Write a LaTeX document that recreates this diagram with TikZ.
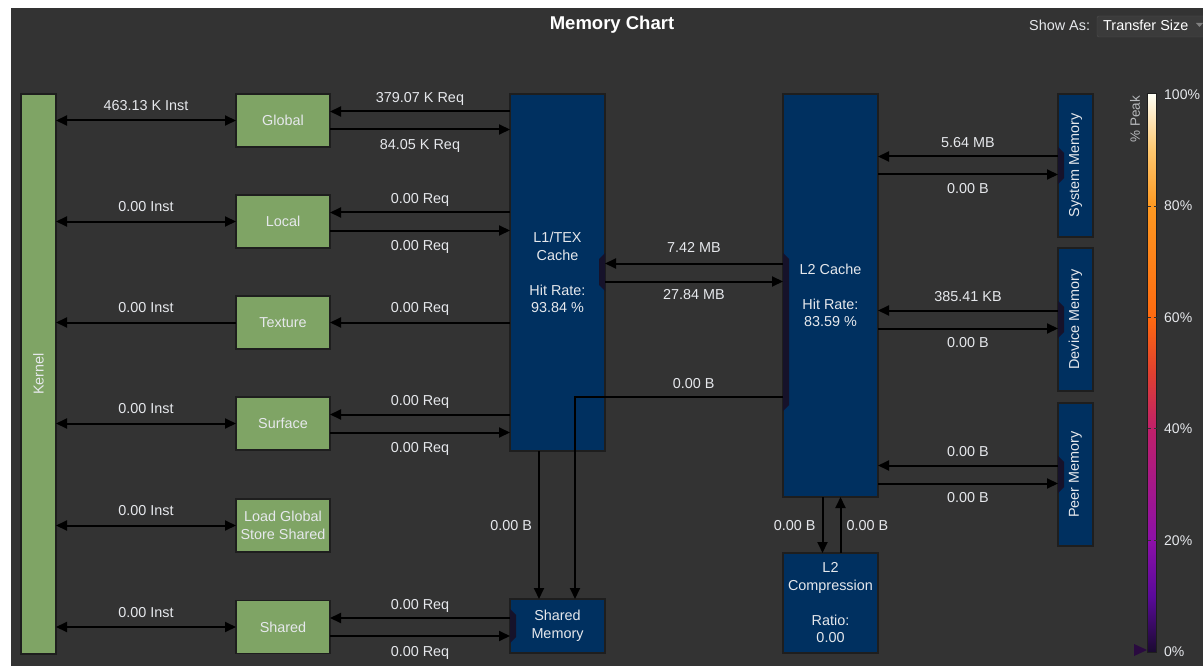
\documentclass[tikz,border=0pt]{standalone}
\usepackage{fontspec}
\usepackage{graphicx}
\setmainfont{Liberation Sans}
\usetikzlibrary{arrows.meta,calc}
\definecolor{bgdark}{HTML}{333333}
\definecolor{kgreen}{HTML}{7FA465}
\definecolor{navy}{HTML}{003060}
\definecolor{bordc}{HTML}{1E1E1E}
\definecolor{txt}{HTML}{E6E8EC}
\definecolor{portc}{HTML}{16122A}
\definecolor{cA}{HTML}{1A0A30}
\definecolor{cB}{HTML}{5A0A9A}
\definecolor{cC}{HTML}{8C10A8}
\definecolor{cD}{HTML}{C0206A}
\definecolor{cE}{HTML}{E04030}
\definecolor{cF}{HTML}{FF6A10}
\definecolor{cG}{HTML}{FF9A22}
\definecolor{cH}{HTML}{FFC870}
\definecolor{cI}{HTML}{FFFFF5}
\definecolor{tri}{HTML}{2A0A40}
\definecolor{ddfill}{HTML}{3B3B3B}
\definecolor{ddbord}{HTML}{505050}
\pgfdeclareverticalshading{peakshade}{100bp}{color(0bp)=(cA); color(25bp)=(cA); color(30bp)=(cB); color(35bp)=(cC); color(45bp)=(cD); color(50bp)=(cE); color(55bp)=(cF); color(65bp)=(cG); color(70bp)=(cH); color(75bp)=(cI); color(100bp)=(cI)}
\newcommand\lblfont{\fontsize{14.4}{17.5}\selectfont}
\begin{document}
\begin{tikzpicture}[x=1pt,y=-1pt,
  gbox/.style={draw=bordc,line width=1.2pt,fill=kgreen,text=txt,minimum width=94pt,minimum height=53pt,inner sep=0pt,outer sep=0pt,align=center,font=\lblfont},
  nbox/.style={draw=bordc,line width=1.2pt,fill=navy,text=txt,inner sep=0pt,outer sep=0pt,align=center,font=\lblfont},
  arr/.style={line width=2pt,draw=black,-{Triangle[length=11pt,width=10pt]}},
  darr/.style={line width=2pt,draw=black,{Triangle[length=11pt,width=10pt]}-{Triangle[length=11pt,width=10pt]}},
  lbl/.style={text=txt,font=\lblfont,inner sep=0pt,text height=10pt,text depth=0pt},
  pct/.style={text=txt,font=\fontsize{14}{16}\selectfont,inner sep=0pt,text height=10pt,text depth=0pt,anchor=west}]
\useasboundingbox (0,0) rectangle (1203,666);
\fill[white] (0,0) rectangle (1203,666);
\fill[bgdark] (11,8) rectangle (1203,666);

% title and header
\node[text=white,font=\bfseries\fontsize{18.5}{20}\selectfont] (title) at (612,25) {Memory Chart};
\node[lbl,anchor=west] (showas) at (1029,26) {Show As:};
\draw[fill=ddfill,draw=ddbord,rounded corners=2pt] (1097,16) rectangle (1215,37);
\node[lbl,anchor=west,text=white] (ddtext) at (1103,26) {Transfer Size};
\fill[gray] (1196,23) -- (1203,23) -- (1199.5,27) -- cycle;

% kernel and green boxes
\node[gbox,minimum width=35pt,minimum height=560pt] (kernel) at (38.5,374) {\rotatebox{90}{Kernel}};
\node[gbox] (global) at (283,120.5) {Global};
\node[gbox] (local) at (283,221.5) {Local};
\node[gbox] (texture) at (283,322.5) {Texture};
\node[gbox] (surface) at (283,423.5) {Surface};
\node[gbox] (loadgs) at (283,525.5) {Load Global\\Store Shared};
\node[gbox] (shared) at (283,627) {Shared};

% navy boxes
\node[nbox,minimum width=95pt,minimum height=357pt] (L1) at (557.5,272.5) {L1/TEX\\Cache\\[17.5pt]Hit Rate:\\93.84 \%};
\node[nbox,minimum width=95pt,minimum height=54pt] (ShMem) at (557.5,626) {Shared\\Memory};
\node[nbox,minimum width=95pt,minimum height=403pt] (L2) at (830.5,295.5) {L2 Cache\\[17.5pt]Hit Rate:\\83.59 \%};
\node[nbox,minimum width=95pt,minimum height=100pt] (L2C) at (830.5,603) {L2\\Compression\\[17.5pt]Ratio:\\0.00};
\node[nbox,minimum width=35pt,minimum height=143pt] (SysMem) at (1075.5,165.5) {\rotatebox{90}{System Memory}};
\node[nbox,minimum width=35pt,minimum height=143pt] (DevMem) at (1075.5,319.5) {\rotatebox{90}{Device Memory}};
\node[nbox,minimum width=35pt,minimum height=143pt] (PeerMem) at (1075.5,474.5) {\rotatebox{90}{Peer Memory}};

% ports
\fill[portc] (605,253) -- (599,259) -- (599,285) -- (605,291) -- cycle;
\fill[portc] (783,253) -- (789,259) -- (789,405) -- (783,411) -- cycle;
\fill[portc] (1058,147) -- (1064,153) -- (1064,178) -- (1058,184) -- cycle;
\fill[portc] (1058,301) -- (1064,307) -- (1064,332) -- (1058,338) -- cycle;
\fill[portc] (1058,456) -- (1064,462) -- (1064,487) -- (1058,493) -- cycle;
\fill[portc] (510,609) -- (516,615) -- (516,637) -- (510,643) -- cycle;

% kernel connectors
\draw[darr] (kernel.east|-global.west) -- node[lbl,yshift=15pt]{463.13 K Inst} (global.west);
\draw[darr] (kernel.east|-local.west) -- node[lbl,yshift=15pt]{0.00 Inst} (local.west);
\draw[arr] (texture.west) -- node[lbl,yshift=15pt]{0.00 Inst} (kernel.east|-texture.west);
\draw[darr] (kernel.east|-surface.west) -- node[lbl,yshift=15pt]{0.00 Inst} (surface.west);
\draw[darr] (kernel.east|-loadgs.west) -- node[lbl,yshift=15pt]{0.00 Inst} (loadgs.west);
\draw[darr] (kernel.east|-shared.west) -- node[lbl,yshift=15pt]{0.00 Inst} (shared.west);

% green boxes <-> L1
\draw[arr] ($(L1.west|-global.east)+(0,-9)$) -- node[lbl,yshift=14pt]{379.07 K Req} ($(global.east)+(0,-9)$);
\draw[arr] ($(global.east)+(0,9)$) -- node[lbl,yshift=-15pt]{84.05 K Req} ($(L1.west|-global.east)+(0,9)$);
\draw[arr] ($(L1.west|-local.east)+(0,-9)$) -- node[lbl,yshift=14pt]{0.00 Req} ($(local.east)+(0,-9)$);
\draw[arr] ($(local.east)+(0,9)$) -- node[lbl,yshift=-15pt]{0.00 Req} ($(L1.west|-local.east)+(0,9)$);
\draw[arr] (L1.west|-texture.east) -- node[lbl,yshift=15pt]{0.00 Req} (texture.east);
\draw[arr] ($(L1.west|-surface.east)+(0,-9)$) -- node[lbl,yshift=14pt]{0.00 Req} ($(surface.east)+(0,-9)$);
\draw[arr] ($(surface.east)+(0,9)$) -- node[lbl,yshift=-15pt]{0.00 Req} ($(L1.west|-surface.east)+(0,9)$);
\draw[arr] ($(ShMem.west|-shared.east)+(0,-9)$) -- node[lbl,yshift=14pt]{0.00 Req} ($(shared.east)+(0,-9)$);
\draw[arr] ($(shared.east)+(0,9)$) -- node[lbl,yshift=-15pt]{0.00 Req} ($(ShMem.west|-shared.east)+(0,9)$);

% L1 <-> L2
\draw[arr] ($(L2.west|-L1.east)+(0,-9)$) -- node[lbl,yshift=16pt]{7.42 MB} ($(L1.east)+(0,-9)$);
\draw[arr] ($(L1.east)+(0,9)$) -- node[lbl,yshift=-13pt]{27.84 MB} ($(L2.west|-L1.east)+(0,9)$);

% to shared memory
\coordinate (cb) at (575,397);
\draw[arr] (L2.west|-cb) -- node[lbl,pos=0.43,yshift=14pt]{0.00 B} (cb) -- (cb|-ShMem.north);
\draw[arr] ($(L1.south)+(-18.5,0)$) -- node[lbl,anchor=east,xshift=-6pt]{0.00 B} ($(ShMem.north)+(-18.5,0)$);

% L2 <-> L2 compression
\draw[arr] ($(L2.south)+(-8,0)$) -- node[lbl,anchor=east,xshift=-6pt]{0.00 B} ($(L2C.north)+(-8,0)$);
\draw[arr] ($(L2C.north)+(10,0)$) -- node[lbl,anchor=west,xshift=5pt]{0.00 B} ($(L2.south)+(10,0)$);

% L2 <-> memories
\draw[arr] ($(SysMem.west)+(0,-9)$) -- node[lbl,yshift=14pt]{5.64 MB} ($(L2.east|-SysMem.west)+(0,-9)$);
\draw[arr] ($(L2.east|-SysMem.west)+(0,9)$) -- node[lbl,yshift=-14pt]{0.00 B} ($(SysMem.west)+(0,9)$);
\draw[arr] ($(DevMem.west)+(0,-9)$) -- node[lbl,yshift=14pt]{385.41 KB} ($(L2.east|-DevMem.west)+(0,-9)$);
\draw[arr] ($(L2.east|-DevMem.west)+(0,9)$) -- node[lbl,yshift=-14pt]{0.00 B} ($(DevMem.west)+(0,9)$);
\draw[arr] ($(PeerMem.west)+(0,-9)$) -- node[lbl,yshift=14pt]{0.00 B} ($(L2.east|-PeerMem.west)+(0,-9)$);
\draw[arr] ($(L2.east|-PeerMem.west)+(0,9)$) -- node[lbl,yshift=-14pt]{0.00 B} ($(PeerMem.west)+(0,9)$);

% colour bar
\shade[shading=peakshade] (1147,94) rectangle (1156,652);
\draw[bordc,line width=1pt] (1147,94) rectangle (1156,652);
\foreach \yy in {206,317,428,540}
  \draw[bgdark,line width=0.8pt,dash pattern=on 3pt off 3pt] (1142,\yy) -- (1161,\yy);
\fill[tri] (1134,644) -- (1147,650) -- (1134,656) -- cycle;
\node[text=txt!80!black,font=\fontsize{13.5}{15}\selectfont,inner sep=0pt] (peaklbl) at (1135,119) {\rotatebox{90}{\% Peak}};
\node[pct] (p100) at (1164,95) {100\%};
\node[pct] (p80) at (1164,206) {80\%};
\node[pct] (p60) at (1164,317) {60\%};
\node[pct] (p40) at (1164,428) {40\%};
\node[pct] (p20) at (1164,540) {20\%};
\node[pct] (p0) at (1164,651) {0\%};
\end{tikzpicture}
\end{document}
